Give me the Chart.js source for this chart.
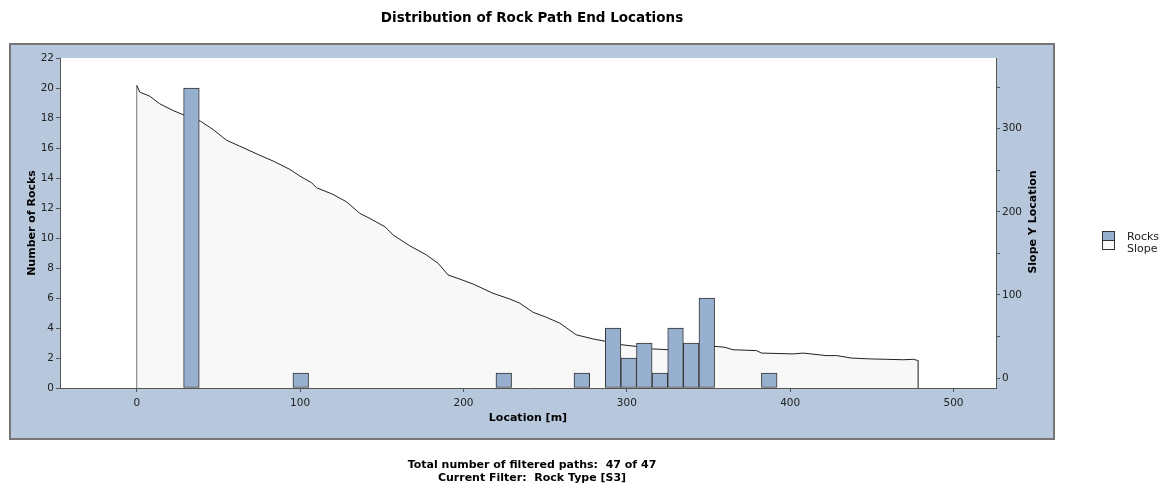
<!DOCTYPE html>
<html>
<head>
<meta charset="utf-8">
<script src="https://cdn.jsdelivr.net/npm/chart.js@4.4.1/dist/chart.umd.min.js"></script>
<style>
  body { margin: 0; background: #fff; font-family: "DejaVu Sans", Verdana, sans-serif; }
  #wrap { position: relative; width: 1166px; height: 486px; }
  #chart { position: absolute; left: 0; top: 0; }
  #title { position: absolute; left: 9px; width: 1046px; top: 9px; text-align: center; font-weight: bold; font-size: 13.5px; color: #000; }
  #footer { position: absolute; left: 9px; width: 1046px; top: 458px; text-align: center; font-weight: bold; font-size: 11px; line-height: 13px; color: #000; }
  .box { position: absolute; left: 1102px; width: 11px; height: 8px; border: 1px solid #333; }
  .lab { position: absolute; left: 1127px; font-size: 11px; line-height: 12px; color: #222; white-space: nowrap; }
</style>
</head>
<body>
<div id="wrap">
  <canvas id="chart" width="1166" height="486"></canvas>
  <div id="title">Distribution of Rock Path End Locations</div>
  <span class="box" style="top:231px;background:#98b0cf"></span>
  <span class="box" style="top:240px;background:#f8f8f8"></span>
  <span class="lab" style="top:231px">Rocks</span>
  <span class="lab" style="top:243px">Slope</span>
  <div id="footer">Total number of filtered paths:&nbsp; 47 of 47<br>Current Filter:&nbsp; Rock Type [S3]</div>
</div>
<script>
// histogram: 50 bins of equal width from 0 to 478 m
const binWidth = 9.56
const rockCounts = [
  0, 0, 0, 20, 0, 0, 0, 0, 0, 0,
  1, 0, 0, 0, 0, 0, 0, 0, 0, 0,
  0, 0, 0, 1, 0, 0, 0, 0, 1, 0,
  4, 2, 3, 1, 4, 3, 6, 0, 0, 0,
  1, 0, 0, 0, 0, 0, 0, 0, 0, 0
]

// slope profile (location [m] -> slope Y location)
const slopeLoc = [0, 0, 1.8, 8, 14, 22, 29.4, 39, 46.7, 55, 63, 73, 83.5, 93.7, 99.8, 107, 110, 120, 128.4, 136.6,
  142.7, 151.9, 157, 167.2, 177.4, 184.5, 190.6, 197.8, 206, 218, 228.4, 234.5, 242.7, 250.9, 259, 264, 269,
  279.4, 287.6, 297, 306, 316, 326, 340, 354.6, 360, 365, 379.4, 382.5, 402, 408, 422, 428.5, 437.6, 448.9,
  459, 469.3, 475.4, 478.4, 478.4]
const slopeY = [-12, 352, 344, 339, 330, 322, 316, 309, 299, 286, 279, 270, 261, 251, 243, 235, 229, 221, 212, 198,
  192, 182, 172, 159, 148, 138, 124, 119, 113, 102, 95, 90, 79, 73, 66, 59, 52,
  47, 44, 40, 38, 35, 34, 36, 38, 37, 34, 33, 30, 29, 30, 27, 27, 24, 23,
  22.5, 22, 22.5, 21, -12]

const leftTicks = [0, 2, 4, 6, 8, 10, 12, 14, 16, 18, 20, 22]
const rightTicks = [0, 100, 200, 300]

const rockData = rockCounts.map((c, i) => ({ x: (i + 0.5) * binWidth, y: c }))
const slopeData = slopeLoc.map((x, i) => ({ x: x, y: slopeY[i] }))

const tickFont = { family: 'DejaVu Sans', size: 10.5 }
const axisCol = '#555'

const panel = {
  id: 'panel',
  beforeDraw(chart) {
    const ctx = chart.ctx
    const a = chart.chartArea
    ctx.save()
    ctx.fillStyle = '#b7c8dc'
    ctx.fillRect(9, 43, 1046, 397)
    ctx.strokeStyle = '#767676'
    ctx.lineWidth = 2
    ctx.strokeRect(10, 44, 1044, 395)
    ctx.fillStyle = '#fff'
    ctx.fillRect(a.left, a.top, a.right - a.left, a.bottom - a.top)
    ctx.restore()
  },
  afterDraw(chart) {
    const ctx = chart.ctx
    ctx.save()
    ctx.fillStyle = '#000'
    ctx.font = 'bold 11px "DejaVu Sans"'
    ctx.textAlign = 'center'
    ctx.textBaseline = 'middle'
    ctx.fillText('Location [m]', 528, 418)
    ctx.translate(32, 223)
    ctx.rotate(-Math.PI / 2)
    ctx.fillText('Number of Rocks', 0, 0)
    ctx.restore()
    ctx.save()
    ctx.fillStyle = '#000'
    ctx.font = 'bold 11px "DejaVu Sans"'
    ctx.textAlign = 'center'
    ctx.textBaseline = 'middle'
    ctx.translate(1033, 222)
    ctx.rotate(-Math.PI / 2)
    ctx.fillText('Slope Y Location', 0, 0)
    ctx.restore()
  }
}

const lastSeg = slopeLoc.length - 2

new Chart(document.getElementById('chart'), {
  data: {
    datasets: [{
      type: 'bar',
      label: 'Rocks',
      data: rockData,
      xAxisID: 'x',
      yAxisID: 'y',
      backgroundColor: '#98b0cf',
      borderColor: '#333',
      borderWidth: 1,
      borderSkipped: false,
      barPercentage: 1,
      categoryPercentage: 1,
      order: 0
    }, {
      type: 'line',
      label: 'Slope',
      data: slopeData,
      xAxisID: 'x',
      yAxisID: 'y1',
      borderColor: '#222',
      borderWidth: 1,
      backgroundColor: '#f8f8f8',
      fill: 'start',
      pointRadius: 0,
      tension: 0,
      segment: {
        borderColor: c => (c.p0DataIndex === 0 || c.p0DataIndex === lastSeg) ? '#6f6f6f' : undefined
      },
      order: 1
    }]
  },
  options: {
    responsive: false,
    animation: false,
    layout: { padding: { left: 10, right: 110, top: 58, bottom: 58 } },
    plugins: { legend: { display: false }, tooltip: { enabled: false } },
    scales: {
      x: {
        type: 'linear',
        min: -47,
        max: 526,
        offset: false,
        afterFit: s => { s.height = 40 },
        ticks: { stepSize: 100, includeBounds: false, font: tickFont, color: '#222', padding: 5, maxRotation: 0 },
        grid: { drawOnChartArea: false, tickLength: 4, color: axisCol, offset: false },
        border: { color: axisCol }
      },
      y: {
        position: 'left',
        min: 0,
        max: 22,
        afterFit: s => { s.width = 50 },
        ticks: {
          stepSize: 1, font: tickFont, color: '#222', padding: 2,
          callback: v => leftTicks.includes(v) ? v : ''
        },
        grid: { drawOnChartArea: false, tickLength: 4, color: axisCol },
        border: { color: axisCol }
      },
      y1: {
        position: 'right',
        min: -12,
        max: 385,
        afterFit: s => { s.width = 60 },
        ticks: {
          stepSize: 50, includeBounds: false, font: tickFont, color: '#222', padding: 2,
          callback: v => rightTicks.includes(v) ? v : ''
        },
        grid: { drawOnChartArea: false, tickLength: 4, color: axisCol },
        border: { color: axisCol }
      }
    }
  },
  plugins: [panel]
})
</script>
</body>
</html>
